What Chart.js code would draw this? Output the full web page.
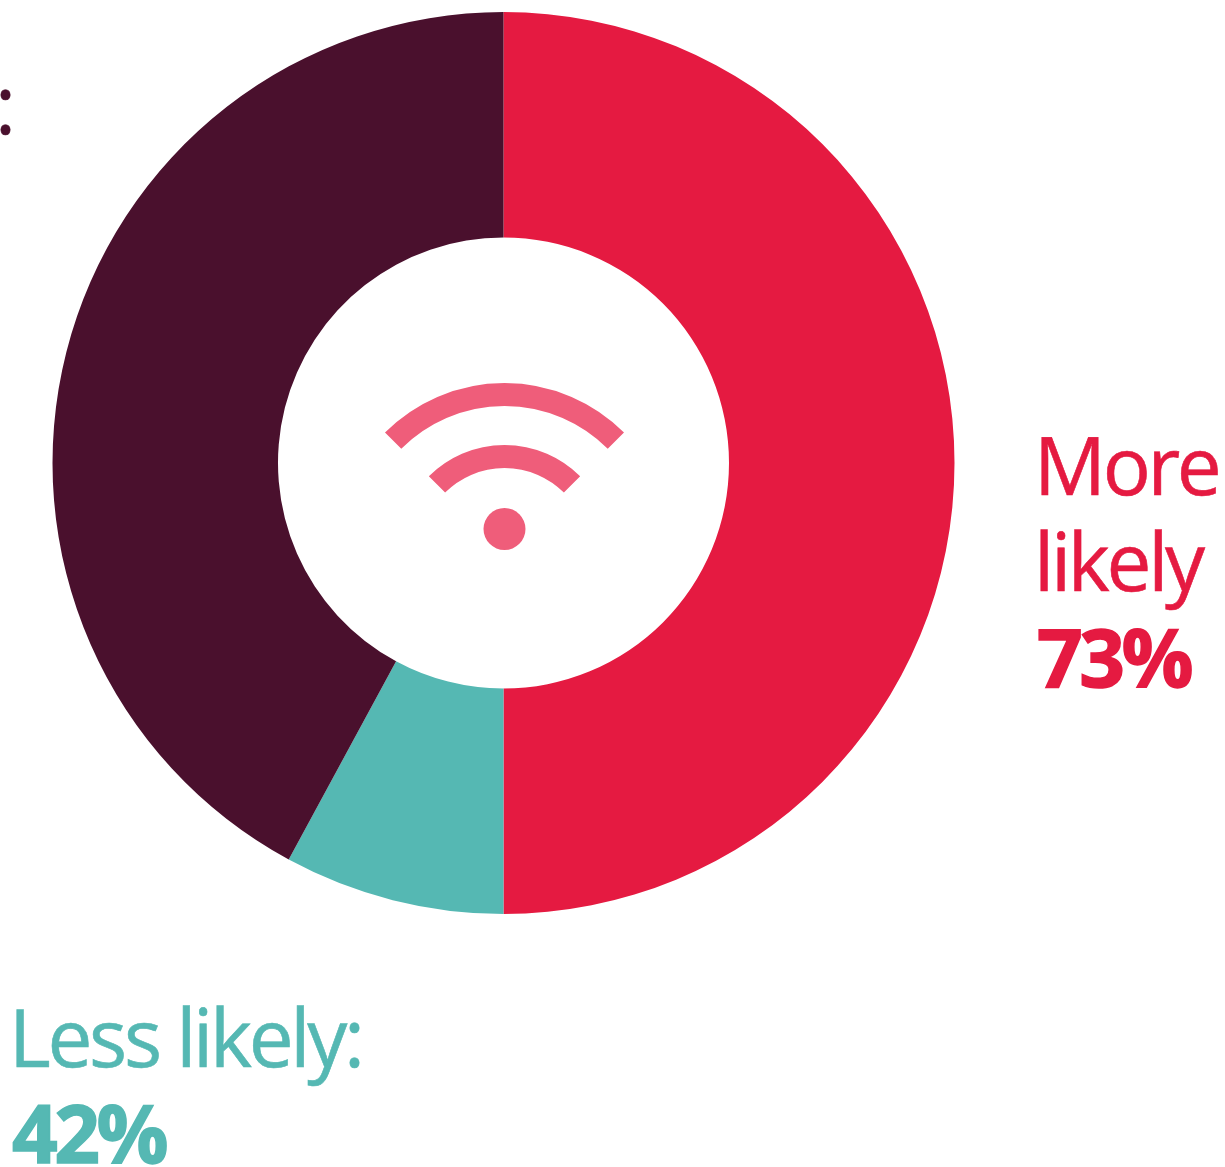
<!DOCTYPE html>
<html>
<head>
<meta charset="utf-8">
<title>More likely, less likely</title>
<script src="https://cdn.jsdelivr.net/npm/chart.js@4"></script>
<style>
  html, body { margin: 0; padding: 0; background: #fff; overflow: hidden; }
  #wrap { position: relative; width: 1225px; height: 1167px; overflow: hidden; }
  canvas { position: absolute; left: 0; top: 0; }
  .label {
    position: absolute;
    font-family: "Open Sans", sans-serif;
    font-size: 80px;
    line-height: 96px;
    letter-spacing: -3.3px;
    white-space: pre-line;
    -webkit-text-stroke: 0.6px currentColor;
  }
  .label b { font-weight: 700; letter-spacing: -3.5px; margin-left: 3px; -webkit-text-stroke: 1.5px currentColor; }
</style>
</head>
<body>
<div id="wrap">
  <canvas id="donut" width="1225" height="1167"></canvas>
  <div class="label" id="moreLabel" style="left:1034px;top:416px;"></div>
  <div class="label" id="lessLabel" style="left:9px;top:988px;"></div>
  <div class="label" id="sameLabel" style="left:-5px;top:55px;">:</div>
</div>
<script>
// values
const categories = ['More likely', 'Less likely', 'Same'];
const sliceValues = [50, 7.9, 42.1];
const sliceColors = ['#E51A41', '#55B8B3', '#4A102D'];
const labelLines = ['More\nlikely', 'Less likely:'];
const labelPercents = [73, 42];
const iconColor = '#EF5D7A';

const moreLabel = document.getElementById('moreLabel');
moreLabel.style.color = sliceColors[0];
moreLabel.innerHTML = labelLines[0] + '\n<b>' + labelPercents[0] + '%</b>';

const lessLabel = document.getElementById('lessLabel');
lessLabel.style.color = sliceColors[1];
lessLabel.innerHTML = labelLines[1] + '\n<b>' + labelPercents[1] + '%</b>';

document.getElementById('sameLabel').style.color = sliceColors[2];

// wifi icon in the hole of the donut
const wifiIcon = {
  id: 'wifiIcon',
  afterDraw(chart) {
    const arc = chart.getDatasetMeta(0).data[0];
    const ctx = chart.ctx;
    const cx = arc.x + 1;
    const cy = arc.y + 89;
    ctx.save();
    ctx.strokeStyle = iconColor;
    ctx.fillStyle = iconColor;
    ctx.lineWidth = 23;
    [157.5, 95.5].forEach(r => {
      ctx.beginPath();
      ctx.arc(cx, cy, r, Math.PI * 1.25, Math.PI * 1.75);
      ctx.stroke();
    });
    ctx.beginPath();
    ctx.arc(cx, cy - 23, 21, 0, Math.PI * 2);
    ctx.fill();
    ctx.restore();
  }
};

new Chart(document.getElementById('donut'), {
  type: 'doughnut',
  data: {
    labels: categories,
    datasets: [{
      data: sliceValues,
      backgroundColor: sliceColors,
      borderWidth: 0
    }]
  },
  options: {
    responsive: false,
    animation: false,
    cutout: '50%',
    layout: { padding: { left: 52.5, right: 270.5, top: 12, bottom: 253 } },
    plugins: {
      legend: { display: false },
      tooltip: { enabled: false }
    }
  },
  plugins: [wifiIcon]
});
</script>
</body>
</html>
